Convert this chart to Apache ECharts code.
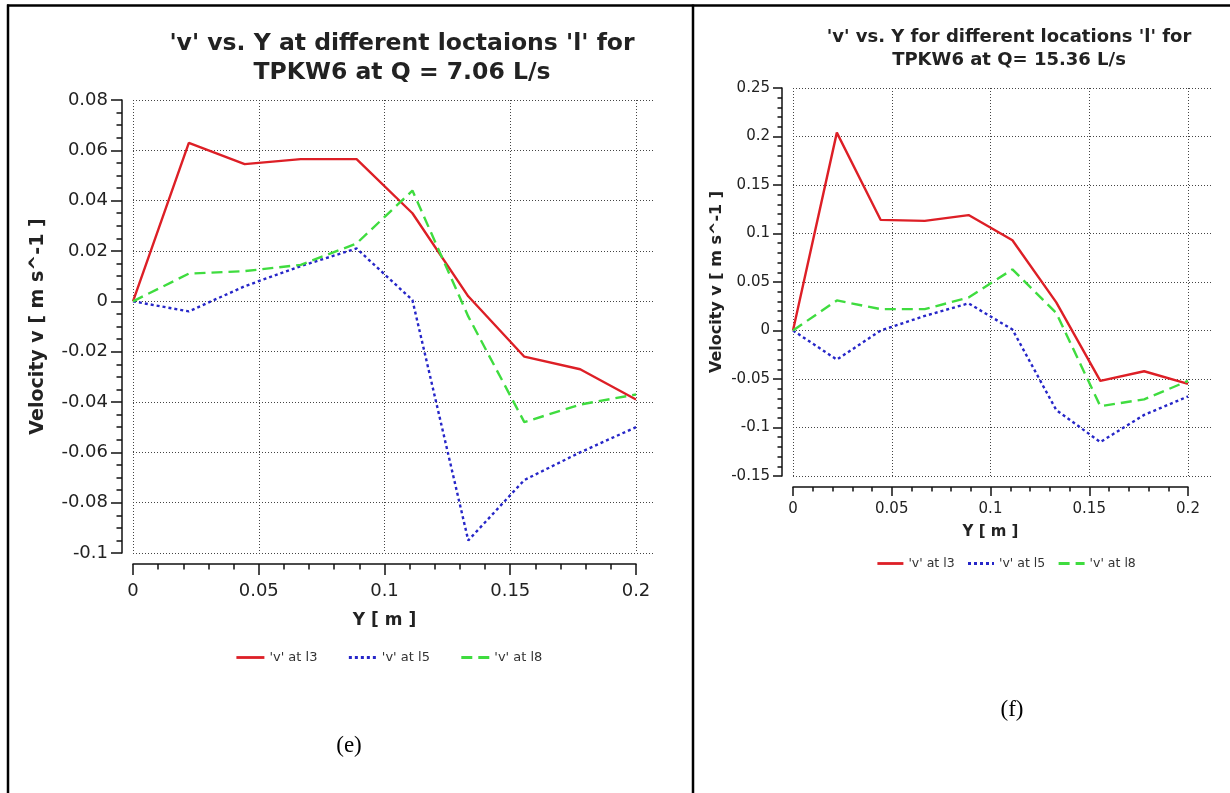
<!DOCTYPE html>
<html><head><meta charset="utf-8">
<script src="https://cdn.jsdelivr.net/npm/echarts@6/dist/echarts.min.js"></script>
<style>html,body{margin:0;padding:0;background:#fff}#c{width:1230px;height:793px}</style>
</head><body><div id="c"></div>
<script>
// Wall-normal positions Y [m]
const yPos = [0, 0.0222, 0.0444, 0.0667, 0.0889, 0.1111, 0.1333, 0.1556, 0.1778, 0.2];
const seriesNames = ["'v' at l3", "'v' at l5", "'v' at l8"];
// (e) Q = 7.06 L/s
const eL3 = [0, 0.063, 0.0545, 0.0565, 0.0565, 0.035, 0.002, -0.022, -0.027, -0.039];
const eL5 = [0, -0.004, 0.006, 0.014, 0.021, 0.0005, -0.095, -0.071, -0.060, -0.050];
const eL8 = [0, 0.011, 0.012, 0.0145, 0.023, 0.044, -0.006, -0.048, -0.041, -0.037];
// (f) Q = 15.36 L/s
const fL3 = [0, 0.204, 0.114, 0.113, 0.119, 0.093, 0.029, -0.052, -0.042, -0.055];
const fL5 = [0, -0.030, 0, 0.015, 0.028, 0.001, -0.082, -0.115, -0.087, -0.068];
const fL8 = [0, 0.031, 0.022, 0.022, 0.034, 0.063, 0.018, -0.078, -0.071, -0.052];
const titleE = "'v' vs. Y at different loctaions 'l' for\nTPKW6 at Q = 7.06 L/s";
const titleF = "'v' vs. Y for different locations 'l' for\nTPKW6 at Q= 15.36 L/s";
const xName = 'Y [ m ]';
const yName = 'Velocity v [ m s^-1 ]';

const FONT = 'DejaVu Sans';
const colors = ['#dd1f26', '#2626c8', '#3fdc3f'];
const dashes = ['solid', [3, 3], [11, 6]];
const pair = (arr) => arr.map((v, i) => [yPos[i], v]);

const chart = echarts.init(document.getElementById('c'), null, {renderer: 'canvas'});

function bgX(grid, max) {
  return {gridIndex: grid, type: 'value', min: 0, max: max, interval: 0.05,
    axisLine: {show: false}, axisTick: {show: false}, axisLabel: {show: false},
    splitLine: {show: true, showMaxLine: false, lineStyle: {color: '#444', type: [1, 2], width: 1}}};
}
function bgY(grid, min, max, itv) {
  return {gridIndex: grid, type: 'value', min: min, max: max, interval: itv,
    axisLine: {show: false}, axisTick: {show: false}, axisLabel: {show: false},
    splitLine: {show: true, lineStyle: {color: '#444', type: [1, 2], width: 1}}};
}
function mainX(grid, fs, nameGap, nameFs, margin, tickLen) {
  return {gridIndex: grid, type: 'value', min: 0, max: 0.2, interval: 0.05, offset: 11,
    name: xName, nameLocation: 'middle', nameGap: nameGap,
    nameTextStyle: {fontFamily: FONT, fontWeight: 'bold', fontSize: nameFs, color: '#222'},
    axisLine: {show: true, onZero: false, lineStyle: {color: '#111', width: 1.5}},
    axisTick: {show: true, length: tickLen, lineStyle: {color: '#111', width: 1.5}},
    minorTick: {show: true, splitNumber: 5, length: tickLen / 2, lineStyle: {color: '#111', width: 1.5}},
    axisLabel: {fontFamily: FONT, fontSize: fs, color: '#222', margin: margin},
    splitLine: {show: false}};
}
function mainY(grid, min, max, itv, minorSplit, fs, nameGap, nameFs, margin, tickLen) {
  return {gridIndex: grid, type: 'value', min: min, max: max, interval: itv, offset: 11,
    name: yName, nameLocation: 'middle', nameGap: nameGap,
    nameTextStyle: {fontFamily: FONT, fontWeight: 'bold', fontSize: nameFs, color: '#222'},
    axisLine: {show: true, onZero: false, lineStyle: {color: '#111', width: 1.5}},
    axisTick: {show: true, length: tickLen, lineStyle: {color: '#111', width: 1.5}},
    minorTick: {show: true, splitNumber: minorSplit, length: tickLen / 2, lineStyle: {color: '#111', width: 1.5}},
    axisLabel: {fontFamily: FONT, fontSize: fs, color: '#222', margin: margin},
    splitLine: {show: false}};
}
function line(name, data, idx, xi, yi) {
  return {name: name, type: 'line', xAxisIndex: xi, yAxisIndex: yi, data: data,
    symbol: 'none', animation: false, smooth: false,
    lineStyle: {color: colors[idx], width: 2.4, type: dashes[idx]},
    itemStyle: {color: colors[idx]}};
}

const option = {
  animation: false,
  backgroundColor: '#fff',
  title: [
    {text: titleE, left: 397, top: 24, textAlign: 'center',
     textStyle: {fontFamily: FONT, fontSize: 23.5, fontWeight: 'bold', color: '#222', lineHeight: 29}},
    {text: titleF, left: 1004, top: 21, textAlign: 'center',
     textStyle: {fontFamily: FONT, fontSize: 18, fontWeight: 'bold', color: '#222', lineHeight: 23}}
  ],
  legend: [
    {data: seriesNames, left: 230, top: 646, itemWidth: 28, itemHeight: 12, itemGap: 30,
     itemStyle: {opacity: 0}, lineStyle: {width: 2.8},
     textStyle: {fontFamily: FONT, fontSize: 13, color: '#333'}},
    {data: seriesNames, left: 871, top: 552, itemWidth: 26, itemHeight: 12, itemGap: 12,
     itemStyle: {opacity: 0}, lineStyle: {width: 2.8},
     textStyle: {fontFamily: FONT, fontSize: 12.5, color: '#333'}}
  ],
  grid: [
    {left: 133, top: 100, width: 522, height: 453},
    {left: 133, top: 100, width: 503, height: 453},
    {left: 793, top: 88, width: 419, height: 388},
    {left: 793, top: 88, width: 395, height: 388}
  ],
  xAxis: [
    bgX(0, 0.2 * 522 / 503),
    mainX(1, 18, 48, 17, 18, 11),
    bgX(2, 0.2 * 419 / 395),
    mainX(3, 15, 38, 15, 15, 9)
  ],
  yAxis: [
    bgY(0, -0.1, 0.08, 0.02),
    mainY(1, -0.1, 0.08, 0.02, 4, 18, 74, 19, 14, 11),
    bgY(2, -0.15, 0.25, 0.05),
    mainY(3, -0.15, 0.25, 0.05, 5, 15, 57, 16, 12, 9)
  ],
  series: [
    line(seriesNames[0], pair(eL3), 0, 1, 1),
    line(seriesNames[1], pair(eL5), 1, 1, 1),
    line(seriesNames[2], pair(eL8), 2, 1, 1),
    line(seriesNames[0], pair(fL3), 0, 3, 3),
    line(seriesNames[1], pair(fL5), 1, 3, 3),
    line(seriesNames[2], pair(fL8), 2, 3, 3)
  ],
  graphic: [
    {type: 'line', shape: {x1: 7, y1: 5.5, x2: 1230, y2: 5.5}, style: {stroke: '#000', lineWidth: 2.5}},
    {type: 'line', shape: {x1: 8, y1: 4.5, x2: 8, y2: 793}, style: {stroke: '#000', lineWidth: 2.5}},
    {type: 'line', shape: {x1: 693, y1: 4.5, x2: 693, y2: 793}, style: {stroke: '#000', lineWidth: 2.5}},
    {type: 'text', x: 349, y: 746, style: {text: '(e)', font: '23px "Liberation Serif"', fill: '#000', textAlign: 'center', textVerticalAlign: 'middle'}},
    {type: 'text', x: 1012, y: 710, style: {text: '(f)', font: '23px "Liberation Serif"', fill: '#000', textAlign: 'center', textVerticalAlign: 'middle'}}
  ]
};
chart.setOption(option);
</script>
</body></html>
